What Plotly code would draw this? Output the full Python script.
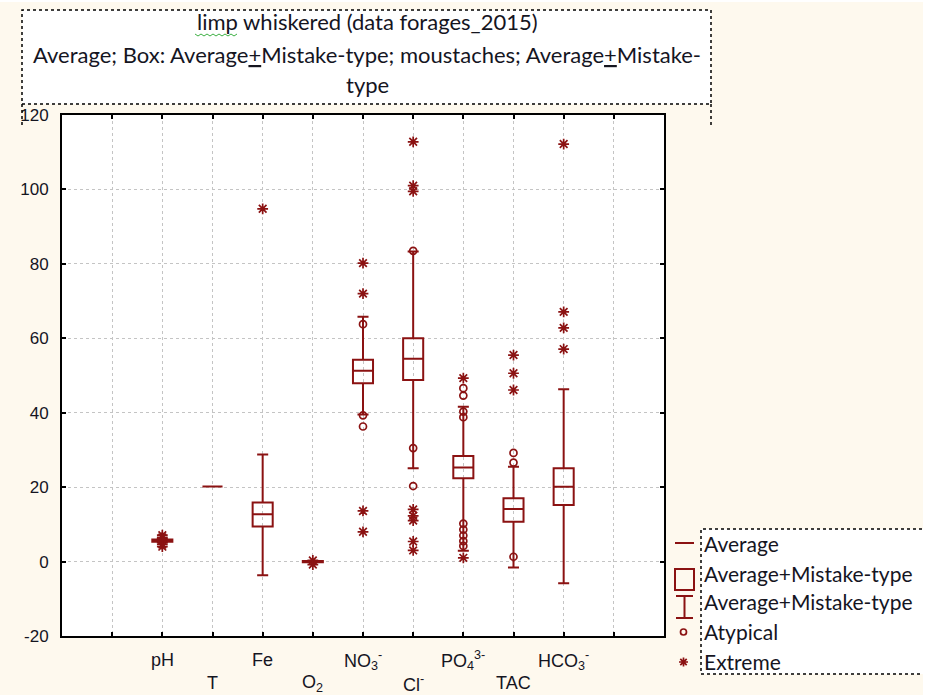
import plotly.graph_objects as go

# ---------------- data ----------------
categories = ["pH", "T", "Fe", "O2", "NO3", "Cl", "PO4", "TAC", "HCO3"]
cat_labels = ["pH", "T", "Fe", "O<sub>2</sub>", "NO<sub>3</sub><sup>-</sup>", "Cl<sup>-</sup>",
              "PO<sub>4</sub><sup>3-</sup>", "TAC", "HCO<sub>3</sub><sup>-</sup>"]
means = [5.6, 20.2, 12.7, 0.0, 51.3, 54.5, 25.3, 14.1, 20.1]
box_low = [5.3, 20.2, 9.4, -0.15, 47.9, 48.8, 22.4, 10.7, 15.2]
box_high = [5.9, 20.2, 15.9, 0.15, 54.2, 60.0, 28.4, 17.0, 25.1]
whisk_low = [5.1, 20.2, -3.7, -0.15, 39.5, 25.1, 2.9, -1.6, -5.8]
whisk_high = [6.1, 20.2, 28.8, 0.15, 65.8, 83.3, 41.6, 25.5, 46.3]
atypical = {
    "pH": [],
    "NO3": [63.8, 39.3, 36.3],
    "Cl": [83.5, 30.5, 20.3],
    "PO4": [46.6, 44.6, 40.3, 38.8, 10.2, 8.6, 7.0, 5.5, 4.2],
    "TAC": [29.2, 26.6, 1.3],
}
extreme = {
    "pH": [7.1, 6.5, 4.6, 4.0],
    "Fe": [94.8],
    "O2": [0.3, -0.8],
    "NO3": [80.2, 72.0, 13.6, 8.0],
    "Cl": [112.8, 101.0, 99.5, 14.0, 12.3, 11.0, 5.4, 3.0],
    "PO4": [49.3, 1.0],
    "TAC": [55.5, 50.6, 46.1],
    "HCO3": [112.2, 67.1, 62.8, 57.1],
}
y_ticks = [-20, 0, 20, 40, 60, 80, 100, 120]
title_lines = ["limp whiskered (data forages_2015)",
               "Average; Box: Average<u>+</u>Mistake-type; moustaches; Average<u>+</u>Mistake-",
               "type"]
legend_labels = ["Average", "Average+Mistake-type", "Average+Mistake-type", "Atypical", "Extreme"]

# ---------------- styling ----------------
MAROON = "#8B1212"
TXT = "#15151f"
CREAM = "#FEF9EE"
L, R, T, B = 62, 664, 115, 636
W, H = R - L, B - T


def px(x):
    return (x - L) / W


def py(y):
    return (B - y) / H


pos = {c: i + 2 for i, c in enumerate(categories)}

fig = go.Figure()
fig.add_trace(go.Box(
    x=[pos[c] for c in categories], q1=box_low, median=means, q3=box_high,
    lowerfence=whisk_low, upperfence=whisk_high,
    width=0.4, whiskerwidth=0.55, boxpoints=False,
    line=dict(color=MAROON, width=2), fillcolor="rgba(0,0,0,0)",
    showlegend=False, hoverinfo="skip"))

ax, ay = [], []
for c, vals in atypical.items():
    ax += [pos[c]] * len(vals)
    ay += vals
fig.add_trace(go.Scatter(x=ax, y=ay, mode="markers", showlegend=False,
                         marker=dict(symbol="circle-open", size=7, color=MAROON,
                                     line=dict(width=1.7, color=MAROON))))
ex, ey = [], []
for c, vals in extreme.items():
    ex += [pos[c]] * len(vals)
    ey += vals
fig.add_trace(go.Scatter(x=ex, y=ey, mode="markers", showlegend=False,
                         marker=dict(symbol="asterisk-open", size=9, color=MAROON,
                                     line=dict(width=1.7, color=MAROON))))

shapes = []
annotations = []

# title box
shapes.append(dict(type="rect", xref="paper", yref="paper", x0=px(22), x1=px(711), y0=py(104), y1=py(10),
                   fillcolor="white", line=dict(color="black", width=1.5, dash="dot"), layer="above"))
for xx in (22, 711):
    shapes.append(dict(type="line", xref="paper", yref="paper", x0=px(xx), x1=px(xx), y0=py(104), y1=py(125),
                       line=dict(color="black", width=1.5, dash="dot")))
for txt, yy in zip(title_lines, (22, 55, 85)):
    annotations.append(dict(text=txt, xref="paper", yref="paper", x=px(367), y=py(yy),
                            xanchor="center", yanchor="middle", showarrow=False,
                            font=dict(family="Lato", size=22, color=TXT)))
# spell-check squiggle under "limp"
zz = "M {} {}".format(px(195), py(34))
for i in range(1, 15):
    zz += " L {} {}".format(px(195 + i * 3), py(34 + (2 if i % 2 else 0)))
shapes.append(dict(type="path", xref="paper", yref="paper", path=zz,
                   line=dict(color="#3cb043", width=1)))

# legend box
shapes.append(dict(type="rect", xref="paper", yref="paper", x0=px(701), x1=px(940), y0=py(674), y1=py(529),
                   fillcolor="white", line=dict(color="black", width=1.5, dash="dot"), layer="above"))
for txt, yy in zip(legend_labels, (543, 573, 601, 631, 661)):
    annotations.append(dict(text=txt, xref="paper", yref="paper", x=px(702), y=py(yy),
                            xanchor="left", yanchor="middle", showarrow=False,
                            font=dict(family="Lato", size=21, color=TXT)))
lg = dict(color=MAROON, width=2)
shapes.append(dict(type="line", xref="paper", yref="paper", x0=px(675), x1=px(694), y0=py(543), y1=py(543), line=lg))
shapes.append(dict(type="rect", xref="paper", yref="paper", x0=px(675), x1=px(694), y0=py(590), y1=py(569), line=lg))
shapes.append(dict(type="line", xref="paper", yref="paper", x0=px(684.5), x1=px(684.5), y0=py(618), y1=py(596), line=lg))
shapes.append(dict(type="line", xref="paper", yref="paper", x0=px(676), x1=px(693), y0=py(596), y1=py(596), line=lg))
shapes.append(dict(type="line", xref="paper", yref="paper", x0=px(676), x1=px(693), y0=py(618), y1=py(618), line=lg))
shapes.append(dict(type="circle", xref="paper", yref="paper", x0=px(680.5), x1=px(686.5), y0=py(635), y1=py(629),
                   line=dict(color=MAROON, width=1.7)))
cx, cy, r = 683.5, 662, 4.5
ast = "M {} {} L {} {} M {} {} L {} {} M {} {} L {} {} M {} {} L {} {}".format(
    px(cx), py(cy - r), px(cx), py(cy + r),
    px(cx - r), py(cy), px(cx + r), py(cy),
    px(cx - 3.2), py(cy - 3.2), px(cx + 3.2), py(cy + 3.2),
    px(cx - 3.2), py(cy + 3.2), px(cx + 3.2), py(cy - 3.2))
shapes.append(dict(type="path", xref="paper", yref="paper", path=ast, line=dict(color=MAROON, width=1.7)))

# white strips at page edges
shapes.append(dict(type="rect", xref="paper", yref="paper", x0=px(0), x1=px(928), y0=py(2), y1=py(0),
                   fillcolor="white", line=dict(width=0)))
shapes.append(dict(type="rect", xref="paper", yref="paper", x0=px(923), x1=px(928), y0=py(695), y1=py(0),
                   fillcolor="white", line=dict(width=0)))

# category labels (two staggered rows)
for i, (c, lab) in enumerate(zip(categories, cat_labels)):
    annotations.append(dict(text=lab, xref="x", yref="paper", x=pos[c], y=0,
                            xanchor="center", yanchor="middle", showarrow=False,
                            yshift=-24 if i % 2 == 0 else -47,
                            font=dict(family="Liberation Sans, Arial", size=18, color=TXT)))

fig.update_layout(
    width=928, height=695,
    margin=dict(l=L, r=928 - R, t=T, b=695 - B),
    paper_bgcolor=CREAM, plot_bgcolor="white",
    shapes=shapes, annotations=annotations,
    xaxis=dict(range=[0, 12], tickvals=list(range(1, 12)), showticklabels=False,
               showgrid=True, gridcolor="#c4c4c4", griddash="dot", gridwidth=1,
               ticks="inside", ticklen=4, tickwidth=2, tickcolor="black",
               showline=True, linecolor="black", linewidth=2, mirror="ticks", zeroline=False),
    yaxis=dict(range=[-20, 120], tickvals=y_ticks, ticktext=[str(v) for v in y_ticks],
               showgrid=True, gridcolor="#c4c4c4", griddash="dot", gridwidth=1,
               ticks="inside", ticklen=4, tickwidth=2, tickcolor="black",
               showline=True, linecolor="black", linewidth=2, mirror="ticks", zeroline=False,
               ticklabelstandoff=8,
               tickfont=dict(family="Liberation Sans, Arial", size=17, color=TXT)),
)

fig.write_html("out.html")
